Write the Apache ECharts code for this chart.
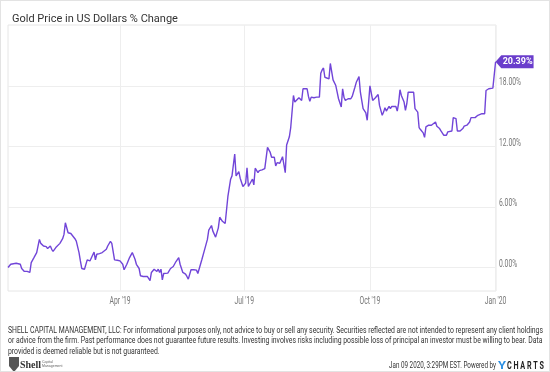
<!DOCTYPE html>
<html>
<head>
<meta charset="utf-8">
<script src="https://cdn.jsdelivr.net/npm/echarts@6/dist/echarts.min.js"></script>
<style>
html,body{margin:0;padding:0;background:#fff;}
#c{width:550px;height:372px;box-sizing:border-box;border:1px solid #e3e3e3;}
</style>
</head>
<body>
<div id="c"></div>
<script>
// ---- data ----
var startDate = [2019, 0, 8]; // day offsets below count from this date
var dayOffsets = [1,3,4,7,8,10,11,13,14,15,17,18,20,22,24,25,27,28,29,30,32,33,34,36,37,39,41,42,43,45,47,48,50,51,53,54,55,57,58,59,61,62,64,65,66,68,70,71,73,74,76,77,79,81,83,85,86,88,90,92,94,95,97,98,100,103,105,106,108,110,111,112,113,114,115,118,120,122,124,126,127,129,131,132,133,135,137,139,140,141,143,145,147,148,150,151,153,155,156,158,160,161,162,164,165,166,167,168,170,171,173,175,176,177,179,180,181,182,184,185,187,189,190,191,193,194,196,197,198,200,201,202,204,205,207,208,209,210,211,212,214,215,216,217,218,220,221,222,223,225,227,229,230,231,232,233,234,236,237,239,241,242,243,245,246,247,248,250,251,252,253,255,256,257,258,259,261,262,263,264,266,268,269,270,272,273,275,276,277,278,280,281,282,283,285,286,287,288,289,291,292,293,294,296,298,299,301,302,303,305,306,307,309,311,312,314,315,317,318,320,322,323,324,326,327,328,329,330,332,334,335,337,339,340,341,343,345,346,348,350,351,353,354,356,358];
var pctChange = [0,0.32,0.16,0.42,0.55,0.32,-0.1,-0.39,-0.49,-0.39,-0.49,0.49,0.98,1.48,2.78,2.39,2.13,1.97,2.07,1.87,2.13,1.80,1.60,1.97,1.87,2.39,2.85,3.28,4.43,3.44,3.37,3.44,2.85,2.62,1.48,0.65,-0.10,-0.17,-0.10,0.75,0.65,0.55,1.53,0.75,1.31,1.38,1.48,1.31,1.80,2.13,2.59,2.39,0.75,0.72,0.65,0.32,-0.23,0.32,0.98,1.48,0.82,0.32,-0.10,-0.82,-0.89,-0.89,-1.31,-0.49,-0.17,-0.39,-0.17,-0.49,-0.17,-1.22,-0.59,-0.56,-0.10,0.10,0.59,0.98,0.32,-0.49,-0.66,-0.89,-1.15,-0.23,-0.23,-0.26,-0.59,-0.43,0.82,1.80,2.78,3.70,4.16,3.60,3.01,3.93,4.98,4.58,4.36,4.43,7.04,8.75,9.08,9.25,11.24,9.08,9.50,8.85,8.03,8.36,9.89,8.03,8.52,8.75,8.19,9.84,9.40,9.60,9.67,9.80,9.99,11.90,11.40,10.92,10.92,10.06,10.39,10.33,10.39,10.98,9.40,12.13,12.95,13.87,13.93,17.05,16.39,16.55,16.82,16.95,16.55,17.71,17.80,17.71,16.95,16.46,16.88,16.82,16.88,16.88,19.24,19.57,19.77,18.85,18.72,18.69,20.22,18.59,18.03,17.37,16.72,15.90,17.71,16.88,16.55,16.72,16.88,16.72,16.95,17.86,18.35,18.26,18.91,17.37,15.74,15.57,15.31,14.59,18.0,16.55,16.62,16.82,17.14,16.06,15.08,15.40,15.84,15.50,15.96,15.74,15.96,15.90,15.96,15.50,16.29,17.61,17.05,16.39,15.57,16.23,17.37,17.37,17.37,15.74,15.40,13.87,13.67,13.34,12.89,13.93,14.10,14.10,14.16,14.42,14.00,13.77,13.53,13.11,13.11,13.44,13.60,13.53,14.85,14.75,14.75,13.53,13.53,13.77,14.00,14.10,14.42,14.85,14.66,14.85,15.08,15.18,15.24,15.24,17.54,17.71,17.77,17.77,20.39];
var xTickDates = [[2019,3,1],[2019,6,1],[2019,9,1],[2020,0,1]];
var xTickLabels = ["Apr '19","Jul '19","Oct '19","Jan '20"];
var yTicks = [0, 6, 12, 18];
var yRange = [-2.33, 24.03];
var xRangeDays = [1, 358.3];
var titleText = "Gold Price in US Dollars % Change";
var disclaimerLines = [
  "SHELL CAPITAL MANAGEMENT, LLC: For informational purposes only, not advice to buy or sell any security. Securities reflected are not intended to represent any client holdings",
  "or advice from the firm. Past performance does not guarantee future results. Investing involves risks including possible loss of principal an investor must be willing to bear. Data",
  "provided is deemed reliable but is not guaranteed."
];
var footerText = "Jan 09 2020, 3:29PM EST. Powered by";

// ---- build ----
var DAY = 86400000;
var t0 = new Date(startDate[0], startDate[1], startDate[2]).getTime();
var seriesData = dayOffsets.map(function(d, i){ return [d, pctChange[i]]; });
var tickDays = xTickDates.map(function(a){ return Math.round((new Date(a[0], a[1], a[2]).getTime() - t0) / DAY); });
var last = seriesData[seriesData.length - 1];
var FONT = "Roboto,'Liberation Sans',sans-serif";
var LINE = '#7145d8';
var TAG = '#6a3dcc';

var mctx = document.createElement('canvas').getContext('2d');
function textW(str, font){ mctx.font = font; return mctx.measureText(str).width; }

var AXF = "10px " + FONT;
var axScale = Math.min(1, 22 / textW('18.00%', AXF));

var chart = echarts.init(document.getElementById('c'), null, {renderer: 'canvas'});
chart.setOption({
  animation: false,
  backgroundColor: '#fff',
  textStyle: {fontFamily: FONT},
  title: {
    text: titleText, left: 6, top: 8,
    textStyle: {fontSize: 11, fontWeight: 'normal', color: '#333', fontFamily: FONT}
  },
  grid: {left: 7, top: 24, right: 53, bottom: 80, show: true, borderColor: '#e6e6e6', borderWidth: 1},
  xAxis: {
    type: 'value',
    min: xRangeDays[0], max: xRangeDays[1],
    axisLine: {show: false},
    axisTick: {show: false, customValues: tickDays},
    splitLine: {show: true, lineStyle: {color: '#eeeeee', width: 1}},
    axisLabel: {show: false, customValues: tickDays}
  },
  yAxis: {
    type: 'value', position: 'right',
    min: yRange[0], max: yRange[1],
    axisLine: {show: false},
    axisTick: {show: false, customValues: yTicks},
    splitLine: {show: true, lineStyle: {color: '#eeeeee', width: 1}},
    axisLabel: {show: false, customValues: yTicks}
  },
  series: [{
    type: 'line', data: seriesData, showSymbol: false, symbol: 'none',
    lineStyle: {color: LINE, width: 1.4}, z: 3,
    markPoint: {
      symbol: 'path://M0,6.5L6,0L40,0L40,13L6,13Z',
      symbolSize: [38, 13], symbolOffset: [19, 0], symbolKeepAspect: false,
      itemStyle: {color: TAG},
      label: {show: true, position: 'inside', offset: [3, 0], color: '#fff', fontWeight: 'bold', fontSize: 9, fontFamily: FONT,
        formatter: function(p){ return p.value.toFixed(2) + '%'; }},
      data: [{coord: last, value: last[1]}]
    }
  }]
});

// axis labels placed through the chart's own scales, drawn condensed
var g = [];
yTicks.forEach(function(v){
  var p = chart.convertToPixel({gridIndex: 0}, [xRangeDays[1], v]);
  g.push({type: 'text', x: p[0] + 3, y: p[1] - 3, scaleX: axScale, silent: true,
    style: {text: v.toFixed(2) + '%', font: AXF, fill: '#777', textAlign: 'left', textVerticalAlign: 'middle'}});
});
tickDays.forEach(function(d, i){
  var p = chart.convertToPixel({gridIndex: 0}, [d, yRange[0]]);
  g.push({type: 'text', x: p[0], y: p[1] + 10, scaleX: axScale, silent: true,
    style: {text: xTickLabels[i], font: AXF, fill: '#777', textAlign: 'center', textVerticalAlign: 'middle'}});
});
// disclaimer + footer
var DF = "9.5px " + FONT;
var dScale = 535 / textW(disclaimerLines[0], DF);
disclaimerLines.forEach(function(line, i){
  g.push({type: 'text', x: 7, y: 329.5 + i * 10.6, scaleX: dScale, silent: true,
    style: {text: line, font: DF, fill: '#333', textAlign: 'left', textVerticalAlign: 'middle'}});
});
var FF = "9.5px " + FONT;
g.push({type: 'text', x: 495, y: 365, scaleX: 107 / textW(footerText, FF), silent: true,
  style: {text: footerText, font: FF, fill: '#333', textAlign: 'right', textVerticalAlign: 'middle'}});
var CF = "bold 11px 'Roboto',sans-serif";
g.push({type: 'text', x: 497, y: 365, scaleX: 8 / textW('Y', CF), silent: true,
  style: {text: 'Y', font: CF, fill: '#2b8fe3', textAlign: 'left', textVerticalAlign: 'middle'}});
g.push({type: 'text', x: 506, y: 365, scaleX: 37 / textW('C H A R T S', CF), silent: true,
  style: {text: 'C H A R T S', font: CF, fill: '#222', textAlign: 'left', textVerticalAlign: 'middle'}});
// shell logo
g.push({type: 'polygon', shape: {points: [[8,356],[18,356],[18,365],[13,371],[8,365]]}, style: {fill: '#555'}});
g.push({type: 'text', x: 19, y: 364, style: {text: 'Shell', fill: '#333', font: "bold 10px 'Liberation Serif',serif", textVerticalAlign: 'middle'}});
g.push({type: 'text', x: 41, y: 363, style: {text: 'Capital\nManagement', fill: '#666', font: "3.5px sans-serif", lineHeight: 4, textVerticalAlign: 'middle'}});
chart.setOption({graphic: g});
</script>
</body>
</html>
